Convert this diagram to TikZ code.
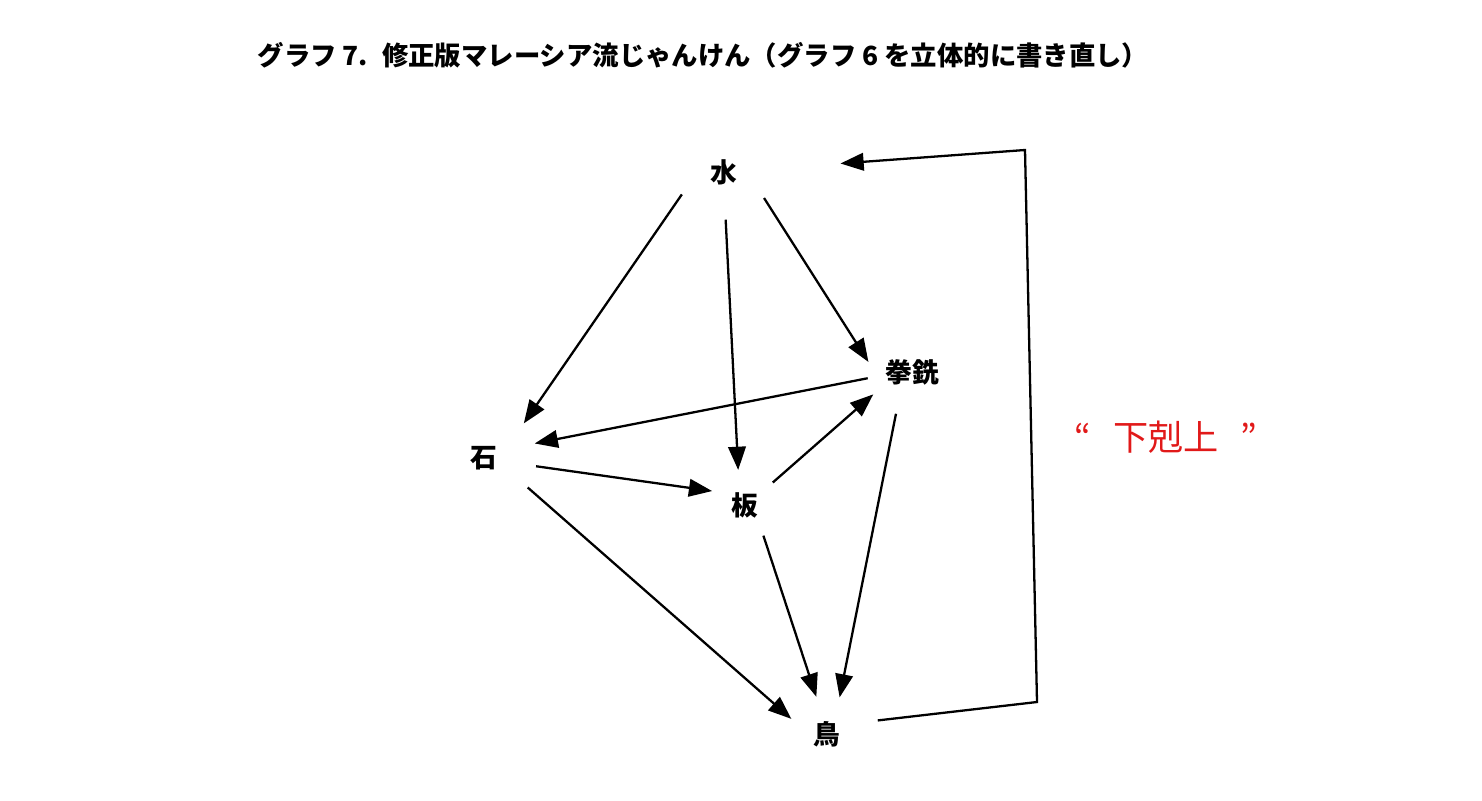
\documentclass[tikz,border=0pt]{standalone}
\usepackage{fontspec}
\usepackage{xcolor}
\usetikzlibrary{arrows.meta}
\newfontfamily\jpfont{Noto Sans CJK JP}
\definecolor{gekoRed}{RGB}{225,25,25}

\begin{document}
\begin{tikzpicture}[x=0.01cm, y=-0.01cm,
        hand/.style={circle, inner sep=0pt, font=\jpfont\bfseries\fontsize{7.6}{9}\selectfont},
        beats/.style={line width=0.65pt, -{Triangle[length=6.6pt, width=5pt]}}]
        \useasboundingbox (0,0) rectangle (1482,800);

        % Title --  --  --  --  --  --  --  --  --  --  --  --  --  --  --
        \node[font=\jpfont\bfseries\fontsize{7.5}{9}\selectfont] (title) at (703,55)
            {グラフ 7. \ 修正版マレーシア流じゃんけん（グラフ 6 を立体的に書き直し）};

        % Hands --  --  --  --  --  --  --  --  --  --  --  --  --  --  --
        \node[hand, minimum size=0.94cm] (shui) at (724,172) {水};
        \node[hand, minimum size=1.04cm] (shi) at (484,458) {石};
        \node[hand, minimum size=0.7cm] (ban) at (745,505) {板};
        \node[hand, minimum size=0.88cm] (quanchong) at (912,372) {拳銑};
        \node[hand, minimum size=0.76cm] (niao) at (827,734) {鳥};

        % Who beats whom  --  --  --  --  --  --  --  --  --  --  --  --  
        \draw[beats] (shui.208) -- (shi.41);
        \draw[beats] (shui.272) -- (ban.101);
        \draw[beats] (shui.327) -- (quanchong.167);
        \draw[beats] (quanchong.188) -- (shi.16);
        \draw[beats] (shi.351) -- (ban.157);
        \draw[beats] (ban.39) -- (quanchong.210);
        \draw[beats] (shi.326) -- (niao.157);
        \draw[beats] (ban.301) -- (niao.106);
        \draw[beats] (quanchong.249) -- (niao.71);
        %  --  --  --  --  --  --  --  --  --  --  --  --  --  --  --  -- 

        % Bird beats water (loop) --  --  --  --  --  --  --  --  --  --  
        \coordinate (loopBR) at (1037,702);
        \coordinate (loopTR) at (1025,150);
        \draw[beats, shorten >=0.69cm, shorten <=0.14cm] (niao.18) -- (loopBR) -- (loopTR) -- (shui);

        % Label
        \node[font=\jpfont\fontsize{10}{12}\selectfont, text=gekoRed] (gekokujo) at (1166,437)
            {“\hspace{4pt} 下剋上\hspace{4pt} ”};
        %  --  --  --  --  --  --  --  --  --  --  --  --  --  --  --  -- 
    \end{tikzpicture}
\end{document}
